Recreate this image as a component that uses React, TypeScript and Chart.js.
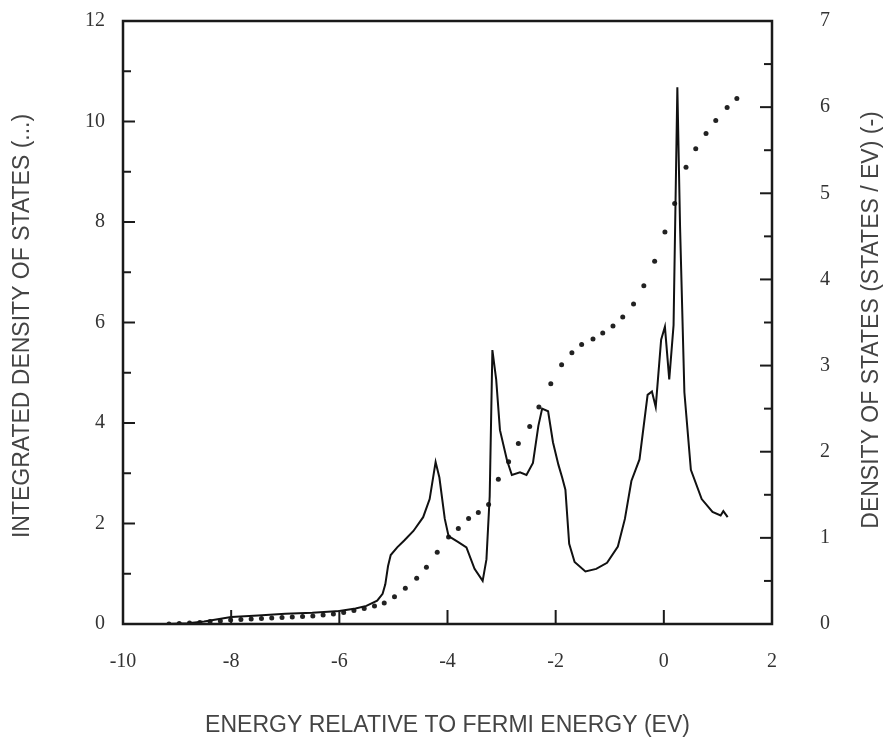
import { useEffect, useRef } from 'react';
import { Chart, registerables } from 'chart.js';

Chart.register(...registerables);

// Density of states (right axis, states/eV) — solid line
const dosEnergy = [
  -9.2, -8.8, -8.5, -8.0, -7.5, -7.0, -6.5, -6.0, -5.7, -5.5, -5.3, -5.2, -5.15, -5.1, -5.05,
  -4.93, -4.8, -4.63, -4.45, -4.33, -4.22, -4.15, -4.05, -3.98, -3.8, -3.65, -3.5, -3.35, -3.28,
  -3.22, -3.17, -3.1, -3.03, -2.9, -2.81, -2.66, -2.54, -2.42, -2.32, -2.25, -2.14, -2.05, -1.95,
  -1.88, -1.82, -1.75, -1.65, -1.45, -1.25, -1.05, -0.85, -0.72, -0.6, -0.45, -0.3, -0.22, -0.15,
  -0.05, 0.02, 0.1, 0.18, 0.25, 0.3, 0.38, 0.5, 0.7, 0.9, 1.05, 1.1, 1.18,
];
const dosValues = [
  0.0, 0.01, 0.03, 0.08, 0.1, 0.12, 0.13, 0.15, 0.18, 0.21, 0.27, 0.35, 0.46, 0.67, 0.8,
  0.89, 0.97, 1.08, 1.24, 1.45, 1.88, 1.7, 1.22, 1.02, 0.95, 0.89, 0.64, 0.5, 0.75,
  1.48, 3.18, 2.84, 2.25, 1.9, 1.73, 1.76, 1.73, 1.87, 2.3, 2.5, 2.47, 2.11, 1.85,
  1.7, 1.56, 0.93, 0.72, 0.61, 0.64, 0.71, 0.9, 1.22, 1.66, 1.91, 2.66, 2.7, 2.52,
  3.3, 3.45, 2.84, 3.47, 6.23, 4.61, 2.69, 1.79, 1.45, 1.3, 1.26, 1.31, 1.24,
];

// Integrated density of states (left axis) — dotted
const idosEnergy = [
  -9.15, -8.96, -8.77, -8.58, -8.39, -8.2, -8.01, -7.82, -7.63, -7.44, -7.25, -7.06, -6.87, -6.68,
  -6.49, -6.3, -6.11, -5.92, -5.73, -5.54, -5.35, -5.17, -4.98, -4.78, -4.57, -4.39, -4.19, -3.98,
  -3.8, -3.61, -3.43, -3.24, -3.06, -2.87, -2.69, -2.48, -2.31, -2.09, -1.89, -1.7, -1.52, -1.31,
  -1.13, -0.94, -0.76, -0.56, -0.37, -0.17, 0.02, 0.2, 0.41, 0.59, 0.78, 0.96, 1.17, 1.35,
];
const idosValues = [
  0.0, 0.01, 0.02, 0.03, 0.05, 0.06, 0.08, 0.09, 0.1, 0.11, 0.12, 0.13, 0.14, 0.15,
  0.16, 0.18, 0.2, 0.23, 0.27, 0.31, 0.36, 0.42, 0.54, 0.71, 0.91, 1.13, 1.43, 1.73,
  1.9, 2.1, 2.22, 2.38, 2.88, 3.23, 3.59, 3.93, 4.32, 4.78, 5.16, 5.4, 5.56, 5.67,
  5.79, 5.93, 6.11, 6.37, 6.73, 7.22, 7.8, 8.37, 9.09, 9.46, 9.76, 10.02, 10.28, 10.46,
];

const xTicks = [-10, -8, -6, -4, -2, 0, 2];
const leftTicks = [0, 2, 4, 6, 8, 10, 12];
const leftMinor = [1, 3, 5, 7, 9, 11];
const rightTicks = [0, 1, 2, 3, 4, 5, 6, 7];
const rightMinor = [0.5, 1.5, 2.5, 3.5, 4.5, 5.5, 6.5];

const xTitle = 'ENERGY RELATIVE TO FERMI ENERGY (EV)';
const leftTitle = 'INTEGRATED DENSITY OF STATES (...)';
const rightTitle = 'DENSITY OF STATES (STATES / EV) (-)';

const W = 885;
const H = 742;
const tickFont = { family: '"Liberation Serif", "DejaVu Serif", serif', size: 20 };
const titleFont = '23px "Liberation Sans", Arial, sans-serif';

const framePlugin = {
  id: 'framePlugin',
  afterDraw(chart: any) {
    const { ctx, chartArea: a, scales } = chart;
    ctx.save();
    ctx.strokeStyle = '#1a1a1a';
    ctx.lineCap = 'butt';
    const mark = (x1: number, y1: number, x2: number, y2: number) => {
      ctx.beginPath();
      ctx.moveTo(x1, y1);
      ctx.lineTo(x2, y2);
      ctx.stroke();
    };
    ctx.lineWidth = 2;
    xTicks.forEach((v) => {
      const x = scales.x.getPixelForValue(v);
      mark(x, a.bottom, x, a.bottom - 14);
    });
    leftTicks.forEach((v) => {
      const y = scales.y.getPixelForValue(v);
      mark(a.left, y, a.left + 12, y);
    });
    leftMinor.forEach((v) => {
      const y = scales.y.getPixelForValue(v);
      mark(a.left, y, a.left + 8, y);
    });
    rightTicks.forEach((v) => {
      const y = scales.y2.getPixelForValue(v);
      mark(a.right, y, a.right - 12, y);
    });
    rightMinor.forEach((v) => {
      const y = scales.y2.getPixelForValue(v);
      mark(a.right, y, a.right - 8, y);
    });
    ctx.lineWidth = 2.5;
    ctx.strokeRect(a.left, a.top, a.right - a.left, a.bottom - a.top);

    ctx.fillStyle = '#444';
    ctx.font = titleFont;
    ctx.textAlign = 'center';
    ctx.textBaseline = 'middle';
    ctx.fillText(xTitle, (a.left + a.right) / 2, a.bottom + 102);

    ctx.save();
    ctx.translate(23, 326);
    ctx.rotate(-Math.PI / 2);
    ctx.fillText(leftTitle, 0, 0);
    ctx.restore();

    ctx.save();
    ctx.translate(872, 320);
    ctx.rotate(-Math.PI / 2);
    ctx.fillText(rightTitle, 0, 0);
    ctx.restore();

    ctx.restore();
  },
};

const noPadV = (s: any, w: number) => {
  s.width = w;
  s.paddingTop = 0;
  s.paddingBottom = 0;
};

export default function App() {
  const ref = useRef<HTMLCanvasElement | null>(null);

  useEffect(() => {
    if (!ref.current) return;
    const chart = new Chart(ref.current, {
      type: 'scatter',
      data: {
        datasets: [
          {
            label: 'DOS',
            data: dosEnergy.map((x, i) => ({ x, y: dosValues[i] })),
            showLine: true,
            borderColor: '#111',
            borderWidth: 2,
            pointRadius: 0,
            tension: 0,
            yAxisID: 'y2',
          },
          {
            label: 'IDOS',
            data: idosEnergy.map((x, i) => ({ x, y: idosValues[i] })),
            showLine: false,
            pointRadius: 2.5,
            pointBorderWidth: 0,
            backgroundColor: '#222',
            borderColor: '#222',
            yAxisID: 'y',
          },
        ],
      },
      options: {
        responsive: false,
        animation: false,
        layout: { autoPadding: false, padding: { top: 21, left: 0, right: 0, bottom: 0 } },
        plugins: { legend: { display: false }, tooltip: { enabled: false } },
        scales: {
          x: {
            type: 'linear',
            position: 'bottom',
            min: -10,
            max: 2,
            grid: { display: false, drawTicks: false },
            border: { display: false },
            ticks: {
              font: tickFont,
              color: '#333',
              padding: 26,
              autoSkip: false,
              maxRotation: 0,
              callback: (v: any) => String(v),
            },
            afterBuildTicks: (s: any) => {
              s.ticks = xTicks.map((value) => ({ value }));
            },
            afterFit: (s: any) => {
              s.height = 118;
              s.paddingLeft = 0;
              s.paddingRight = 0;
            },
          },
          y: {
            type: 'linear',
            position: 'left',
            min: 0,
            max: 12,
            grid: { display: false, drawTicks: false },
            border: { display: false },
            ticks: {
              font: tickFont,
              color: '#333',
              padding: 18,
              autoSkip: false,
              callback: (v: any) => String(v),
            },
            afterBuildTicks: (s: any) => {
              s.ticks = leftTicks.map((value) => ({ value }));
            },
            afterFit: (s: any) => noPadV(s, 123),
          },
          y2: {
            type: 'linear',
            position: 'right',
            min: 0,
            max: 7,
            grid: { display: false, drawTicks: false },
            border: { display: false },
            ticks: {
              font: tickFont,
              color: '#333',
              padding: 48,
              autoSkip: false,
              callback: (v: any) => String(v),
            },
            afterBuildTicks: (s: any) => {
              s.ticks = rightTicks.map((value) => ({ value }));
            },
            afterFit: (s: any) => noPadV(s, 113),
          },
        },
      },
      plugins: [framePlugin],
    });
    return () => chart.destroy();
  }, []);

  return (
    <div style={{ position: 'fixed', left: 0, top: 0, width: W, height: H, background: '#fff' }}>
      <canvas ref={ref} width={W} height={H} style={{ display: 'block', width: W, height: H }} />
    </div>
  );
}
